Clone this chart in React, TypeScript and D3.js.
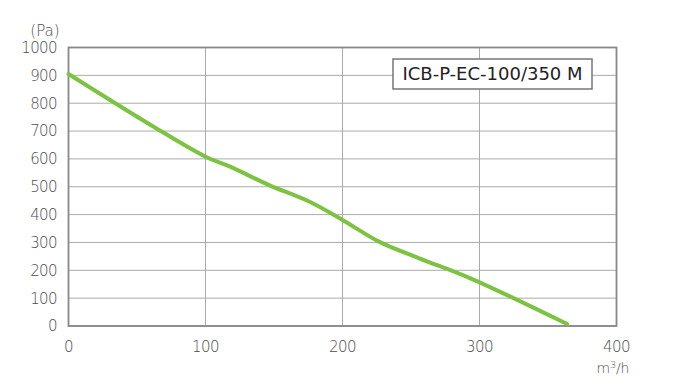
import React from "react";
import * as d3 from "d3";

const flow = [0, 60, 100, 118, 146, 176, 200, 227, 256, 293, 364];
const pressure = [905, 722, 608, 572, 507, 446, 381, 302, 243, 172, 7];
const xTicks = [0, 100, 200, 300, 400];
const yTicks = [0, 100, 200, 300, 400, 500, 600, 700, 800, 900, 1000];
const modelName = "ICB-P-EC-100/350 M";

const W = 673, H = 390;
const L = 68.5, R = 616.5, T = 47.5, B = 326;

export default function App() {
  const x = d3.scaleLinear().domain([0, 400]).range([L, R]);
  const y = d3.scaleLinear().domain([0, 1000]).range([B, T]);
  const pts: [number, number][] = flow.map((f, i) => [f, pressure[i]]);
  const line = d3
    .line<[number, number]>()
    .x((d) => x(d[0]))
    .y((d) => y(d[1]))
    .curve(d3.curveCatmullRom.alpha(0.5));
  const font = "'DejaVu Sans', sans-serif";
  const tc = "#4d4d4d";
  return (
    <svg
      width={W}
      height={H}
      style={{ position: "absolute", left: 0, top: 0, background: "#fff" }}
    >
      {yTicks.map((t) => (
        <line key={"gy" + t} x1={L} x2={R} y1={y(t)} y2={y(t)} stroke="#aaa" strokeWidth={1} />
      ))}
      {xTicks.map((t) => (
        <line key={"gx" + t} x1={x(t)} x2={x(t)} y1={T} y2={B} stroke="#aaa" strokeWidth={1} />
      ))}
      <rect x={L} y={T} width={R - L} height={B - T} fill="none" stroke="#888" strokeWidth={1.8} />
      {yTicks.map((t) => (
        <text
          key={"ty" + t}
          x={57}
          y={y(t)}
          dy="0.36em"
          textAnchor="end"
          fontFamily={font}
          fontWeight={200}
          fontSize={15}
          letterSpacing={-0.6}
          fill={tc}
        >
          {t}
        </text>
      ))}
      <text x={45} y={31} dy="0.36em" textAnchor="middle" fontFamily={font} fontWeight={200} fontSize={15} fill={tc}>
        (Pa)
      </text>
      {xTicks.map((t) => (
        <text
          key={"tx" + t}
          x={x(t)}
          y={347}
          dy="0.36em"
          textAnchor="middle"
          fontFamily={font}
          fontWeight={200}
          fontSize={15}
          letterSpacing={-0.6}
          fill={tc}
        >
          {t}
        </text>
      ))}
      <text x={613} y={368} dy="0.36em" textAnchor="middle" fontFamily={font} fontWeight={200} fontSize={14} fill={tc}>
        m<tspan fontSize={9} dy="-5">3</tspan>
        <tspan dy="5">/h</tspan>
      </text>
      <path d={line(pts) || ""} fill="none" stroke="#7dc242" strokeWidth={4} strokeLinecap="round" />
      <rect x={393} y={59} width={199} height={30} fill="#fff" stroke="#777" strokeWidth={1.5} />
      <text x={492.5} y={74} dy="0.36em" textAnchor="middle" fontFamily={font} fontSize={18} fill="#222">
        {modelName}
      </text>
    </svg>
  );
}
